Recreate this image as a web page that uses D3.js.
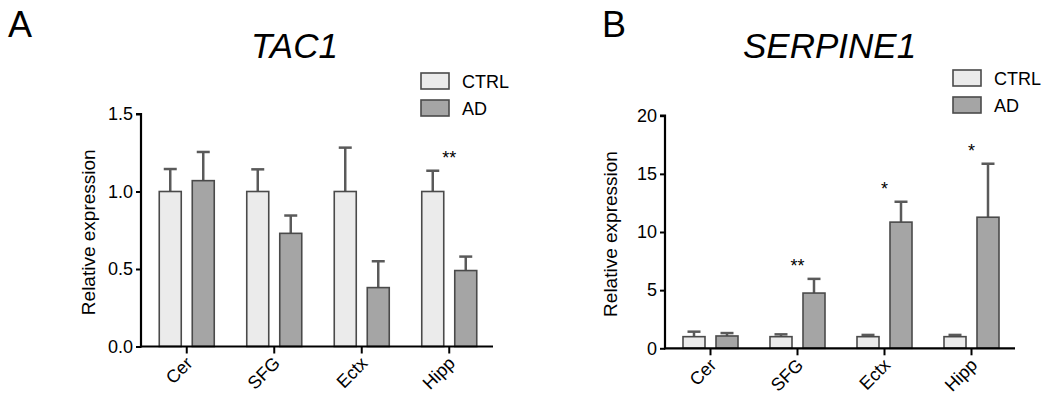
<!DOCTYPE html>
<html>
<head>
<meta charset="utf-8">
<script src="https://cdn.jsdelivr.net/npm/d3@7"></script>
<style>
  html, body { margin: 0; padding: 0; background: #fff; }
  svg { display: block; font-family: "Liberation Sans", Arial, Helvetica, sans-serif; }
</style>
</head>
<body>
<svg id="chart" width="1050" height="405"></svg>
<script>
// ---- data ----
const regions = ["Cer", "SFG", "Ectx", "Hipp"];
const seriesNames = ["CTRL", "AD"];

const tac1Ctrl = [1.0, 1.0, 1.0, 1.0];
const tac1CtrlErr = [0.145, 0.143, 0.283, 0.134];
const tac1Ad = [1.07, 0.73, 0.38, 0.49];
const tac1AdErr = [0.185, 0.115, 0.17, 0.09];
const tac1Sig = ["", "", "", "**"];
const tac1Ticks = [0, 0.5, 1.0, 1.5];

const serpCtrl = [1.0, 1.0, 1.0, 1.0];
const serpCtrlErr = [0.43, 0.2, 0.15, 0.15];
const serpAd = [1.06, 4.75, 10.85, 11.27];
const serpAdErr = [0.25, 1.22, 1.75, 4.6];
const serpSig = ["", "**", "*", "*"];
const serpTicks = [0, 5, 10, 15, 20];

const svg = d3.select("#chart");
const colors = { CTRL: "#ebebeb", AD: "#a5a5a5" };

function drawPanel(cfg) {
  const g = svg.append("g");
  const x0 = d3.scaleBand().domain(regions).range([cfg.xl, cfg.xr]);
  const x1 = d3.scaleBand().domain(seriesNames).range([-27.5, 27.5]).paddingInner(1 / 3);
  const y = d3.scaleLinear().domain(cfg.domain).range([cfg.yb, cfg.yt]);
  const center = r => x0(r) + x0.bandwidth() / 2;

  // panel letter & title
  g.append("text").attr("x", cfg.letterX).attr("y", 37).attr("font-size", 36).attr("fill", "#000").text(cfg.letter);
  g.append("text").attr("x", cfg.titleX).attr("y", 58).attr("font-size", 35).attr("font-style", "italic").attr("fill", "#000").text(cfg.title);

  const rows = regions.map((r, i) => ({
    region: r,
    vals: [
      { s: "CTRL", v: cfg.ctrl[i], e: cfg.ctrlErr[i] },
      { s: "AD", v: cfg.ad[i], e: cfg.adErr[i] }
    ],
    sig: cfg.sig[i]
  }));

  // error bars (upward only)
  rows.forEach(row => {
    row.vals.forEach(d => {
      const cx = center(row.region) + x1(d.s) + x1.bandwidth() / 2;
      const yTop = y(d.v + d.e);
      g.append("line").attr("x1", cx).attr("x2", cx).attr("y1", y(d.v)).attr("y2", yTop)
        .attr("stroke", "#5a5a5a").attr("stroke-width", 2.5);
      g.append("line").attr("x1", cx - 6.5).attr("x2", cx + 6.5).attr("y1", yTop).attr("y2", yTop)
        .attr("stroke", "#5a5a5a").attr("stroke-width", 2.5);
    });
  });

  // bars
  rows.forEach(row => {
    g.selectAll(null).data(row.vals).enter().append("rect")
      .attr("x", d => center(row.region) + x1(d.s))
      .attr("width", x1.bandwidth())
      .attr("y", d => y(d.v))
      .attr("height", d => y(0) - y(d.v))
      .attr("fill", d => colors[d.s])
      .attr("stroke", "#4a4a4a")
      .attr("stroke-width", 1.6);
  });

  // significance markers
  rows.forEach(row => {
    if (!row.sig) return;
    const top = d3.max(row.vals, d => d.v + d.e);
    g.append("text").attr("x", center(row.region)).attr("y", y(top) - 7)
      .attr("text-anchor", "middle").attr("font-size", 18).attr("fill", "#000").text(row.sig);
  });

  // y axis
  const yAxis = d3.axisLeft(y).tickValues(cfg.ticks).tickSize(5).tickPadding(3).tickFormat(cfg.fmt);
  const ya = g.append("g").attr("transform", `translate(${cfg.xl - 2},0)`).call(yAxis);
  ya.select(".domain").attr("stroke", "#000").attr("stroke-width", 2.2).attr("d", `M-5,${cfg.yt}H0V${cfg.yb + 1}`);
  ya.selectAll(".tick line").attr("stroke", "#000").attr("stroke-width", 2);
  ya.selectAll(".tick text").attr("font-size", 18).attr("fill", "#000").attr("font-family", "Liberation Sans, Arial, sans-serif");

  // x axis (ticks only; labels drawn rotated below)
  const xAxis = d3.axisBottom(x0).tickSize(7).tickFormat("");
  const xa = g.append("g").attr("transform", `translate(0,${cfg.yb})`).call(xAxis);
  xa.select(".domain").attr("stroke", "#000").attr("stroke-width", 2.2).attr("d", `M${cfg.xl - 3},0H${cfg.xr}`);
  xa.selectAll(".tick line").attr("stroke", "#000").attr("stroke-width", 2);

  g.selectAll(null).data(regions).enter().append("text")
    .attr("transform", r => `translate(${center(r) - 2},${cfg.yb + 9}) rotate(-45)`)
    .attr("text-anchor", "end").attr("dy", "0.7em")
    .attr("font-size", 18).attr("fill", "#000")
    .text(r => r);

  // y label
  g.append("text").attr("transform", `translate(${cfg.ylabX},${(cfg.yt + cfg.yb) / 2 + 2}) rotate(-90)`)
    .attr("text-anchor", "middle").attr("dy", "0.35em").attr("font-size", 19).attr("fill", "#000")
    .text("Relative expression");

  // legend
  seriesNames.forEach((s, i) => {
    const ly = cfg.legY + i * 27;
    g.append("rect").attr("x", cfg.legX).attr("y", ly).attr("width", 28).attr("height", 16)
      .attr("fill", colors[s]).attr("stroke", "#4a4a4a").attr("stroke-width", 1.6);
    g.append("text").attr("x", cfg.legX + 41).attr("y", ly + 15).attr("font-size", 18).attr("fill", "#000").text(s);
  });
}

drawPanel({
  letter: "A", letterX: 8, title: "TAC1", titleX: 251,
  ctrl: tac1Ctrl, ctrlErr: tac1CtrlErr, ad: tac1Ad, adErr: tac1AdErr, sig: tac1Sig,
  ticks: tac1Ticks, fmt: d3.format(".1f"), domain: [0, 1.5],
  xl: 143, xr: 493, yb: 346.5, yt: 114, ylabX: 88,
  legX: 421, legY: 73
});

drawPanel({
  letter: "B", letterX: 602, title: "SERPINE1", titleX: 743,
  ctrl: serpCtrl, ctrlErr: serpCtrlErr, ad: serpAd, adErr: serpAdErr, sig: serpSig,
  ticks: serpTicks, fmt: d3.format("d"), domain: [0, 20],
  xl: 667, xr: 1015, yb: 348.3, yt: 115.7, ylabX: 610,
  legX: 953, legY: 70
});
</script>
</body>
</html>
